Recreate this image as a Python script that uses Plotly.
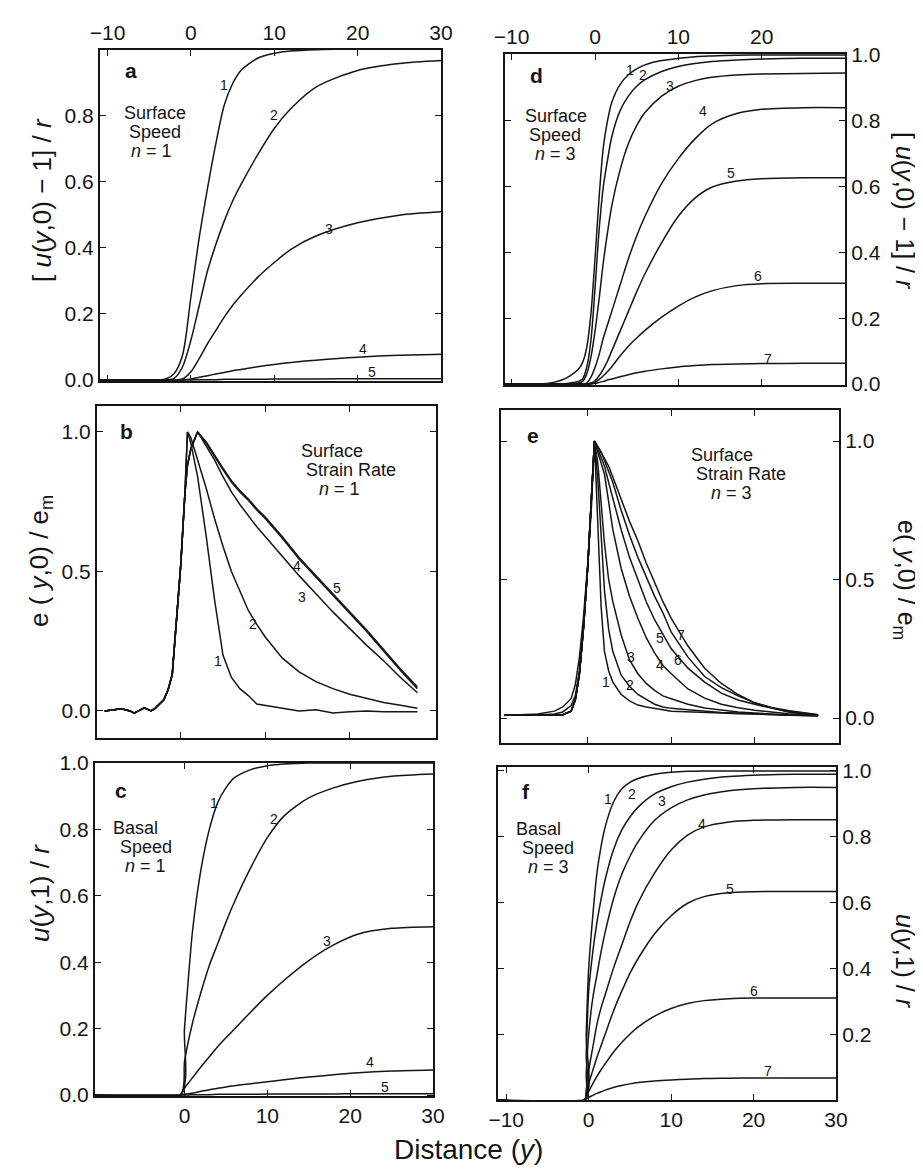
import plotly.graph_objects as go

W, H = 923, 1172
INK = '#151515'
FONT = 'Liberation Sans, Arial, sans-serif'

# ---- panel a : surface speed, n = 1 ----
xa = [-10.9, -4, -3, -2, -1, 0, 1, 2, 3, 4, 5, 6, 8, 10, 12, 15, 20, 25, 30]
a1 = [0, 0, 0.003, 0.02, 0.075, 0.25, 0.43, 0.58, 0.715, 0.83, 0.895, 0.935, 0.972, 0.987, 0.994, 0.998, 1.0, 1.0, 1.0]
a2 = [0, 0, 0, 0.005, 0.04, 0.12, 0.225, 0.33, 0.41, 0.48, 0.54, 0.59, 0.68, 0.76, 0.82, 0.885, 0.935, 0.956, 0.965]
a3 = [0, 0, 0, 0, 0.003, 0.025, 0.065, 0.11, 0.15, 0.19, 0.225, 0.255, 0.31, 0.355, 0.395, 0.435, 0.475, 0.498, 0.508]
a4 = [0, 0, 0, 0, 0, 0.003, 0.008, 0.013, 0.018, 0.023, 0.028, 0.032, 0.04, 0.047, 0.053, 0.06, 0.069, 0.075, 0.078]
a5 = [0, 0, 0, 0, 0, 0, 0.001, 0.001, 0.001, 0.002, 0.002, 0.002, 0.002, 0.003, 0.003, 0.003, 0.004, 0.004, 0.004]

# ---- panel b : surface strain rate, n = 1 ----
xb = [-9, -8, -7, -6, -5.5, -5, -4.3, -3.5, -3, -2, -1.5, -1, -0.5, 0, 0.5,
      0.8, 1.2, 2, 3, 4, 5, 6, 7, 8, 9, 10, 12, 14, 16, 18, 20, 22, 24, 26, 28]
b_rise = [0, 0.005, 0.008, 0.0, -0.008, 0.0, 0.011, 0.0, 0.01, 0.04, 0.075, 0.13, 0.31, 0.52, 0.78]
b1 = b_rise + [1.0, 0.96, 0.84, 0.63, 0.4, 0.2, 0.12, 0.08, 0.055, 0.025, 0.02, 0.012, 0.0, 0.004, -0.007, -0.003, 0.0, -0.003, -0.002, -0.003]
b2 = b_rise + [1.0, 0.98, 0.9, 0.8, 0.69, 0.59, 0.5, 0.43, 0.36, 0.31, 0.265, 0.19, 0.14, 0.105, 0.08, 0.06, 0.045, 0.03, 0.02, 0.01]
b3 = b_rise + [0.88, 0.94, 1.0, 0.95, 0.9, 0.84, 0.785, 0.74, 0.7, 0.66, 0.625, 0.555, 0.485, 0.42, 0.355, 0.295, 0.235, 0.18, 0.12, 0.065]
b4 = b_rise + [0.88, 0.94, 1.0, 0.96, 0.91, 0.865, 0.82, 0.785, 0.755, 0.72, 0.69, 0.62, 0.545, 0.48, 0.415, 0.35, 0.285, 0.215, 0.145, 0.08]
b5 = b_rise + [0.88, 0.94, 1.0, 0.965, 0.915, 0.87, 0.825, 0.79, 0.76, 0.725, 0.695, 0.625, 0.55, 0.485, 0.42, 0.355, 0.29, 0.22, 0.15, 0.087]

# ---- panel c : basal speed, n = 1 ----
xc = [-10.8, -0.5, 0, 0.5, 1, 2, 3, 4, 5, 6, 8, 10, 12, 15, 18, 21, 25, 30]
c1 = [0, 0, 0.2, 0.36, 0.5, 0.68, 0.8, 0.88, 0.925, 0.955, 0.98, 0.992, 0.997, 1.0, 1.0, 1.0, 1.0, 1.0]
c2 = [0, 0, 0.1, 0.165, 0.22, 0.31, 0.39, 0.455, 0.52, 0.58, 0.685, 0.775, 0.84, 0.895, 0.925, 0.945, 0.96, 0.967]
c3 = [0, 0, 0.02, 0.037, 0.053, 0.085, 0.115, 0.145, 0.172, 0.198, 0.25, 0.3, 0.345, 0.405, 0.452, 0.485, 0.502, 0.507]
c4 = [0, 0, 0.002, 0.004, 0.006, 0.011, 0.016, 0.02, 0.024, 0.028, 0.034, 0.04, 0.046, 0.054, 0.061, 0.067, 0.072, 0.075]
c5 = [0, 0, 0, 0, 0.001, 0.001, 0.001, 0.002, 0.002, 0.002, 0.002, 0.003, 0.003, 0.003, 0.003, 0.004, 0.004, 0.004]

# ---- panel d : surface speed, n = 3 ----
xd = [-10.8, -6.5, -5, -4, -3, -2, -1.5, -1, -0.5, 0, 0.5, 1, 1.5, 2, 3, 4, 5, 6, 8, 10, 12, 14, 17, 20, 25, 30]
d1 = [0, 0, 0.005, 0.012, 0.025, 0.045, 0.065, 0.11, 0.21, 0.38, 0.57, 0.72, 0.8, 0.855, 0.91, 0.94, 0.958, 0.97, 0.983, 0.99, 0.995, 0.997, 0.999, 1.0, 1.0, 1.0]
d2 = [0, 0, 0, 0, 0.003, 0.008, 0.015, 0.05, 0.13, 0.29, 0.47, 0.6, 0.68, 0.75, 0.83, 0.875, 0.905, 0.925, 0.95, 0.965, 0.974, 0.98, 0.985, 0.988, 0.99, 0.99]
d3 = [0, 0, 0, 0, 0, 0.003, 0.008, 0.03, 0.08, 0.16, 0.26, 0.37, 0.46, 0.54, 0.65, 0.73, 0.785, 0.825, 0.875, 0.905, 0.922, 0.932, 0.939, 0.942, 0.944, 0.945]
d4 = [0, 0, 0, 0, 0, 0, 0, 0.003, 0.02, 0.05, 0.09, 0.14, 0.18, 0.22, 0.3, 0.38, 0.45, 0.51, 0.61, 0.685, 0.745, 0.79, 0.822, 0.835, 0.84, 0.84]
d5 = [0, 0, 0, 0, 0, 0, 0, 0, 0.003, 0.01, 0.025, 0.045, 0.07, 0.1, 0.16, 0.22, 0.28, 0.335, 0.43, 0.51, 0.565, 0.598, 0.617, 0.624, 0.627, 0.627]
d6 = [0, 0, 0, 0, 0, 0, 0, 0, 0, 0.005, 0.014, 0.025, 0.038, 0.052, 0.085, 0.115, 0.14, 0.163, 0.203, 0.237, 0.264, 0.283, 0.299, 0.305, 0.306, 0.306]
d7 = [0, 0, 0, 0, 0, 0, 0, 0, 0, 0.002, 0.005, 0.008, 0.012, 0.015, 0.022, 0.028, 0.034, 0.039, 0.046, 0.052, 0.056, 0.059, 0.061, 0.062, 0.063, 0.063]

# ---- panel e : surface strain rate, n = 3 ----
xe = [-10, -6, -4, -3, -2, -1.5, -1, -0.5, 0, 0.4, 0.8, 1.2, 1.6, 2, 2.5, 3, 4, 5, 6, 7, 8, 9, 10, 12, 14, 16, 18, 20, 22, 24, 27.6]
e1 = [0.01, 0.015, 0.025, 0.04, 0.07, 0.12, 0.22, 0.37, 0.56, 0.74, 1.0, 0.7, 0.4, 0.24, 0.17, 0.13, 0.085, 0.062, 0.047, 0.04, 0.034, 0.03, 0.025, 0.022, 0.02, 0.018, 0.016, 0.014, 0.012, 0.01, 0.008]
e2 = [0.01, 0.011, 0.015, 0.022, 0.045, 0.08, 0.17, 0.34, 0.55, 0.76, 1.0, 0.86, 0.66, 0.46, 0.32, 0.24, 0.155, 0.115, 0.085, 0.066, 0.05, 0.04, 0.035, 0.03, 0.025, 0.02, 0.018, 0.015, 0.012, 0.01, 0.008]
e3 = [0.01, 0.01, 0.01, 0.012, 0.025, 0.065, 0.16, 0.33, 0.55, 0.76, 1.0, 0.92, 0.76, 0.63, 0.5, 0.42, 0.3, 0.21, 0.16, 0.125, 0.1, 0.08, 0.07, 0.05, 0.036, 0.028, 0.022, 0.018, 0.014, 0.011, 0.008]
e4 = [0.01, 0.01, 0.01, 0.012, 0.025, 0.065, 0.16, 0.33, 0.55, 0.76, 1.0, 0.96, 0.92, 0.88, 0.78, 0.68, 0.54, 0.44, 0.36, 0.29, 0.235, 0.19, 0.16, 0.105, 0.072, 0.05, 0.037, 0.028, 0.022, 0.016, 0.01]
e5 = [0.01, 0.01, 0.01, 0.012, 0.025, 0.065, 0.16, 0.33, 0.55, 0.76, 1.0, 0.97, 0.94, 0.91, 0.85, 0.79, 0.68, 0.58, 0.5, 0.42, 0.355, 0.3, 0.25, 0.18, 0.13, 0.09, 0.065, 0.05, 0.036, 0.025, 0.012]
e6 = [0.01, 0.01, 0.01, 0.012, 0.025, 0.065, 0.16, 0.33, 0.55, 0.76, 1.0, 0.98, 0.96, 0.93, 0.89, 0.85, 0.75, 0.66, 0.58, 0.51, 0.44, 0.38, 0.31, 0.22, 0.15, 0.11, 0.08, 0.055, 0.038, 0.027, 0.012]
e7 = [0.01, 0.01, 0.01, 0.012, 0.025, 0.065, 0.16, 0.33, 0.55, 0.76, 1.0, 0.98, 0.96, 0.94, 0.91, 0.87, 0.79, 0.71, 0.64, 0.56, 0.49, 0.42, 0.36, 0.26, 0.18, 0.125, 0.085, 0.055, 0.037, 0.022, 0.008]

# ---- panel f : basal speed, n = 3 ----
xf = [-11, -0.5, -0.3, 0, 0.5, 1, 1.5, 2, 3, 4, 5, 6, 8, 10, 12, 14, 17, 20, 25, 30]
f1 = [0, 0, 0.2, 0.4, 0.56, 0.69, 0.77, 0.83, 0.905, 0.945, 0.965, 0.977, 0.99, 0.996, 0.999, 1.0, 1.0, 1.0, 1.0, 1.0]
f2 = [0, 0, 0.14, 0.33, 0.45, 0.54, 0.61, 0.67, 0.76, 0.82, 0.86, 0.89, 0.93, 0.952, 0.966, 0.975, 0.983, 0.987, 0.99, 0.99]
f3 = [0, 0, 0.08, 0.2, 0.31, 0.38, 0.45, 0.51, 0.61, 0.685, 0.74, 0.785, 0.85, 0.888, 0.912, 0.927, 0.94, 0.946, 0.95, 0.95]
f4 = [0, 0, 0.03, 0.09, 0.16, 0.23, 0.28, 0.32, 0.4, 0.47, 0.54, 0.6, 0.69, 0.76, 0.805, 0.83, 0.845, 0.85, 0.852, 0.852]
f5 = [0, 0, 0.02, 0.05, 0.09, 0.13, 0.165, 0.2, 0.27, 0.33, 0.385, 0.43, 0.505, 0.56, 0.598, 0.618, 0.63, 0.633, 0.634, 0.634]
f6 = [0, 0, 0.01, 0.025, 0.05, 0.072, 0.092, 0.11, 0.145, 0.175, 0.2, 0.222, 0.255, 0.278, 0.293, 0.302, 0.308, 0.31, 0.31, 0.31]
f7 = [0, 0, 0.003, 0.008, 0.014, 0.02, 0.025, 0.03, 0.038, 0.044, 0.049, 0.053, 0.058, 0.061, 0.063, 0.065, 0.066, 0.067, 0.067, 0.067]

panels = {
    'a': dict(x=xa, ys=[a1, a2, a3, a4, a5], shape='spline'),
    'b': dict(x=xb, ys=[b1, b2, b3, b4, b5], shape='linear'),
    'c': dict(x=xc, ys=[c1, c2, c3, c4, c5], shape='spline'),
    'd': dict(x=xd, ys=[d1, d2, d3, d4, d5, d6, d7], shape='spline'),
    'e': dict(x=xe, ys=[e1, e2, e3, e4, e5, e6, e7], shape='linear'),
    'f': dict(x=xf, ys=[f1, f2, f3, f4, f5, f6, f7], shape='spline'),
}

# curve number labels (data coordinates)
curve_labels = {
    'a': [(4.0, 0.89), (10.0, 0.80), (16.6, 0.455), (20.6, 0.094), (21.7, 0.024)],
    'b': [(4.4, 0.18), (8.5, 0.31), (14.4, 0.41), (13.8, 0.52), (18.5, 0.44)],
    'c': [(3.6, 0.88), (10.8, 0.83), (17.2, 0.465), (22.4, 0.10), (24.2, 0.024)],
    'd': [(4.2, 0.955), (5.7, 0.94), (9.0, 0.905), (13.0, 0.83), (16.3, 0.64), (19.5, 0.327), (20.7, 0.077)],
    'e': [(2.2, 0.13), (5.0, 0.12), (5.2, 0.22), (8.6, 0.19), (8.7, 0.29), (10.8, 0.21), (11.2, 0.30)],
    'f': [(2.4, 0.915), (5.2, 0.93), (8.9, 0.91), (13.8, 0.84), (17.2, 0.64), (20.0, 0.33), (21.7, 0.088)],
}

# panel frames in pixels: left, right, top, bottom ; axis ranges ; ticks
layout_spec = {
    'a': dict(box=(92, 433, 42, 373), xr=[-10.9, 30], yr=[-0.003, 0.997],
              xt=[-10, 0, 10, 20, 30], xside='top', xlab=True,
              yt=[0, 0.2, 0.4, 0.6, 0.8], yside='left'),
    'b': dict(box=(89, 428, 398, 730), xr=[-9.9, 30.2], yr=[-0.097, 1.093],
              xt=[0, 10, 20], xside='bottom', xlab=False,
              yt=[0, 0.5, 1.0], yside='left'),
    'c': dict(box=(87, 425, 755, 1088), xr=[-10.8, 30], yr=[-0.003, 1.0],
              xt=[0, 10, 20, 30], xside='bottom', xlab=True,
              yt=[0, 0.2, 0.4, 0.6, 0.8, 1.0], yside='left'),
    'd': dict(box=(497, 837, 46, 377), xr=[-10.8, 30], yr=[-0.003, 1.003],
              xt=[-10, 0, 10, 20], xside='top', xlab=True,
              yt=[0, 0.2, 0.4, 0.6, 0.8, 1.0], yside='right'),
    'e': dict(box=(493, 831, 402, 735), xr=[-10.4, 30.1], yr=[-0.09, 1.112],
              xt=[0, 10, 20], xside='bottom', xlab=False,
              yt=[0, 0.5, 1.0], yside='right'),
    'f': dict(box=(490, 828, 759, 1092), xr=[-11, 30], yr=[0.0, 1.012],
              xt=[-10, 0, 10, 20, 30], xside='bottom', xlab=True,
              yt=[0.2, 0.4, 0.6, 0.8, 1.0], yside='right'),
}

fig = go.Figure()
layout = {}
annotations = []

for i, key in enumerate(['a', 'b', 'c', 'd', 'e', 'f']):
    n = '' if i == 0 else str(i + 1)
    xname, yname = 'x' + n, 'y' + n
    p = panels[key]
    for y in p['ys']:
        fig.add_trace(go.Scatter(
            x=p['x'], y=y, mode='lines', xaxis=xname, yaxis=yname,
            line=dict(color=INK, width=1.5, shape=p['shape'], smoothing=0.8),
            hoverinfo='skip', showlegend=False))

    s = layout_spec[key]
    l, r, t, b = s['box']
    common = dict(showline=True, linewidth=2, linecolor=INK, mirror='ticks',
                  ticks='inside', ticklen=6, tickwidth=1.3, tickcolor=INK,
                  showgrid=False, zeroline=False, automargin=False,
                  tickfont=dict(family=FONT, size=21, color=INK))
    layout['xaxis' + n] = dict(common, domain=[l / W, r / W], range=s['xr'],
                               tickvals=s['xt'], side=s['xside'],
                               showticklabels=s['xlab'], anchor=yname)
    layout['yaxis' + n] = dict(common, domain=[1 - b / H, 1 - t / H], range=s['yr'],
                               tickvals=s['yt'], tickformat='.1f', side=s['yside'],
                               anchor=xname)

    for k, (lx, ly) in enumerate(curve_labels[key]):
        annotations.append(dict(x=lx, y=ly, xref=xname, yref=yname, text=str(k + 1),
                                showarrow=False, font=dict(family=FONT, size=14, color=INK)))


def note(px, py, text, size=18, anchor='center', bold=False, angle=0):
    if bold:
        text = '<b>' + text + '</b>'
    annotations.append(dict(x=px / W, y=1 - py / H, xref='paper', yref='paper', text=text,
                            showarrow=False, xanchor=anchor, yanchor='middle', textangle=angle,
                            font=dict(family=FONT, size=size, color=INK)))


# panel letters
note(123, 63, 'a', 21, bold=True)
note(118, 423, 'b', 21, bold=True)
note(113, 782, 'c', 21, bold=True)
note(528, 67, 'd', 21, bold=True)
note(525, 427, 'e', 21, bold=True)
note(518, 783, 'f', 21, bold=True)

# panel descriptions
note(147, 105, 'Surface')
note(147, 124, 'Speed')
note(143, 143, '<i>n</i> = 1')
note(548, 108, 'Surface')
note(547, 127, 'Speed')
note(547, 146, '<i>n</i> = 3')
note(291, 443, 'Surface', anchor='left')
note(296, 462, 'Strain Rate', anchor='left')
note(309, 481, '<i>n</i> = 1', anchor='left')
note(681, 447, 'Surface', anchor='left')
note(686, 466, 'Strain Rate', anchor='left')
note(701, 485, '<i>n</i> = 3', anchor='left')
note(127, 820, 'Basal')
note(138, 839, 'Speed')
note(137, 858, '<i>n</i> = 1')
note(530, 821, 'Basal')
note(540, 840, 'Speed')
note(540, 859, '<i>n</i> = 3')

# axis titles
speed0 = '[ <i>u</i>(<i>y</i>,0) \u2212 1] / <i>r</i>'
strain0 = 'e ( <i>y</i>,0) / e<sub>m</sub>'
speed1 = '<i>u</i>(<i>y</i>,1) / <i>r</i>'
note(34, 192, speed0, 26, angle=-90)
note(32, 553, strain0, 26, angle=-90)
note(32, 885, speed1, 26, angle=-90)
note(897, 203, speed0, 25, angle=90)
note(897, 572, 'e( <i>y</i>,0) / e<sub>m</sub>', 25, angle=90)
note(897, 953, speed1, 25, angle=90)
note(460, 1141, 'Distance (<i>y</i>)', 28)

fig.update_layout(
    width=W, height=H,
    margin=dict(l=0, r=0, t=0, b=0),
    paper_bgcolor='white',
    plot_bgcolor='white',
    showlegend=False,
    annotations=annotations,
    **layout
)

fig.write_html("out.html")
